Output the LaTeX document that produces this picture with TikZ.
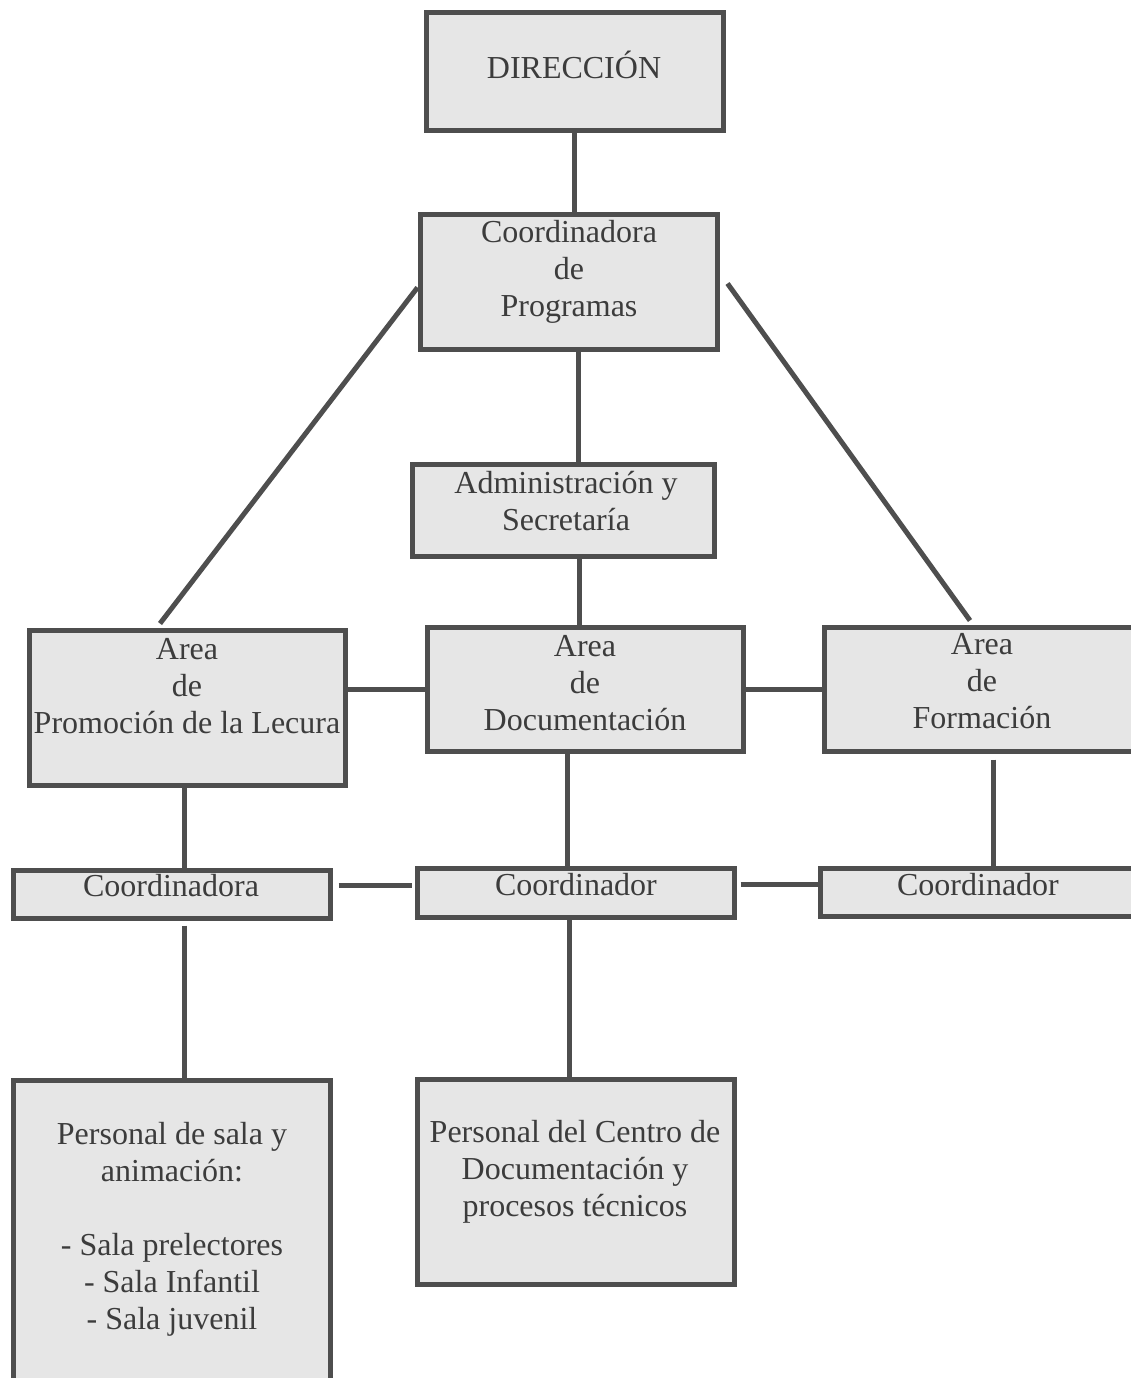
\documentclass[tikz,border=0pt]{standalone}
\usepackage{fontspec}
\setmainfont{Liberation Serif}
\definecolor{boxfill}{HTML}{E6E6E6}
\definecolor{boxline}{HTML}{4E4E4E}
\definecolor{txtcol}{HTML}{3C3C3C}
\tikzset{
  orgbox/.style={draw=boxline, fill=boxfill, line width=5pt, inner sep=0pt},
  orgtxt/.style={text=txtcol, align=center, inner sep=0pt, font=\fontsize{32}{37}\selectfont},
  link/.style={draw=boxline, line width=5pt}
}
\begin{document}
\begin{tikzpicture}[x=1pt,y=1pt]
\useasboundingbox (0,0) rectangle (1131,-1378);
% boxes
\node[orgbox, minimum width=297pt, minimum height=118pt] (dir) at (574.5,-72) {};
\node[orgbox, minimum width=297pt, minimum height=135pt] (coord) at (568.5,-281.5) {};
\node[orgbox, minimum width=302pt, minimum height=92pt] (admin) at (563,-510) {};
\node[orgbox, minimum width=316pt, minimum height=155pt] (prom) at (187,-707.5) {};
\node[orgbox, minimum width=316pt, minimum height=124pt] (doc) at (585,-689) {};
\node[orgbox, minimum width=320pt, minimum height=124pt] (form) at (984,-689) {};
\node[orgbox, minimum width=317pt, minimum height=48pt] (cA) at (171.5,-894) {};
\node[orgbox, minimum width=317pt, minimum height=49pt] (cB) at (575.5,-892.5) {};
\node[orgbox, minimum width=316pt, minimum height=48pt] (cC) at (978,-892) {};
\node[orgbox, minimum width=317pt, minimum height=318pt] (pA) at (172,-1239) {};
\node[orgbox, minimum width=317pt, minimum height=205pt] (pB) at (575.5,-1181.5) {};
% texts
\node[orgtxt] (dirT) at (574,-65) {DIRECCIÓN};
\node[orgtxt] (coordT) at (569,-272) {Coordinadora\\de\\Programas};
\node[orgtxt] (adminT) at (566,-501) {Administración y\\Secretaría};
\node[orgtxt] (promT) at (187,-686) {Area\\de\\Promoción de la Lecura};
\node[orgtxt] (docT) at (585,-683) {Area\\de\\Documentación};
\node[orgtxt] (formT) at (982,-681) {Area\\de\\Formación};
\node[orgtxt] (cAT) at (171,-886) {Coordinadora};
\node[orgtxt] (cBT) at (576,-885) {Coordinador};
\node[orgtxt] (cCT) at (978,-885) {Coordinador};
\node[orgtxt] (pAT) at (172,-1229) {Personal de sala y\\animación:\\[37pt]- Sala prelectores\\- Sala Infantil\\- Sala juvenil};
\node[orgtxt] (pBT) at (575,-1172) {Personal del Centro de\\Documentación y\\procesos técnicos};
% connectors
\draw[link] (dir.south) -- (dir.south |- coord.north);
\draw[link] ([xshift=10pt]coord.south) -- ([xshift=10pt]coord.south |- admin.north);
\draw[link] ([xshift=16pt]admin.south) -- ([xshift=16pt]admin.south |- doc.north);
\draw[link] ([yshift=-6pt]coord.west) -- ([xshift=-27pt,yshift=4pt]prom.north);
\draw[link] ([xshift=8pt,yshift=-2pt]coord.east) -- ([xshift=-14pt,yshift=4pt]form.north);
\draw[link] (doc.west -| prom.east) -- (doc.west);
\draw[link] (doc.east) -- (form.west);
\draw[link] ([xshift=-3pt]prom.south) -- ([xshift=-3pt]prom.south |- cA.north);
\draw[link] ([xshift=-18pt]doc.south) -- ([xshift=-18pt]doc.south |- cB.north);
\draw[link, shorten <=6pt] ([xshift=9pt]form.south) -- ([xshift=9pt]form.south |- cC.north);
\draw[link, shorten <=6pt, shorten >=3pt] ([yshift=9pt]cA.east) -- ([yshift=9pt]cA.east -| cB.west);
\draw[link, shorten <=4pt] ([yshift=8pt]cB.east) -- ([yshift=8pt]cB.east -| cC.west);
\draw[link, shorten <=5pt] ([xshift=12.5pt]cA.south) -- ([xshift=12.5pt]cA.south |- pA.north);
\draw[link] ([xshift=-6.5pt]cB.south) -- ([xshift=-6.5pt]cB.south |- pB.north);
\end{tikzpicture}
\end{document}
